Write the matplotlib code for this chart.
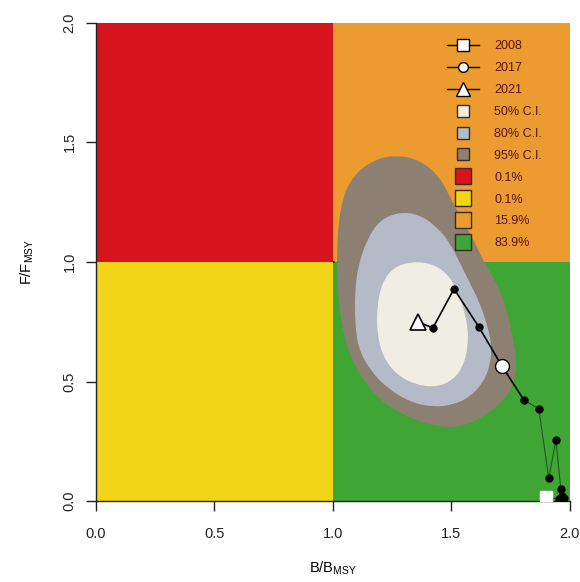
import matplotlib
matplotlib.use("Agg")
import matplotlib.pyplot as plt
from matplotlib.lines import Line2D
from matplotlib.path import Path
from matplotlib.patches import PathPatch

plt.rcParams["font.family"] = ["Liberation Sans", "DejaVu Sans"]

# Kobe quadrants: (b0, b1, f0, f1, colour)
quadrants = [
    (0.0, 1.0, 1.0, 2.0, "#d7141e"),   # overfished & overfishing
    (0.0, 1.0, 0.0, 1.0, "#f2d418"),   # overfished
    (1.0, 2.0, 1.0, 2.0, "#eb9b30"),   # overfishing
    (1.0, 2.0, 0.0, 1.0, "#3fa535"),   # healthy
]
quad_labels = ["0.1%", "0.1%", "15.9%", "83.9%"]

# confidence regions (B/Bmsy, F/Fmsy)
ci95_b = [1.253, 1.367, 1.451, 1.506, 1.565, 1.608, 1.633, 1.692, 1.734, 1.759,
          1.776, 1.768, 1.734, 1.675, 1.608, 1.536, 1.464, 1.380, 1.283, 1.198,
          1.127, 1.072, 1.038, 1.021, 1.017, 1.021, 1.042, 1.084, 1.156]
ci95_f = [1.448, 1.427, 1.356, 1.247, 1.146, 1.063, 1.008, 0.912, 0.799, 0.686,
          0.590, 0.506, 0.435, 0.381, 0.339, 0.310, 0.310, 0.326, 0.368, 0.423,
          0.506, 0.603, 0.728, 0.870, 1.008, 1.146, 1.272, 1.356, 1.418]

ci80_b = [1.283, 1.367, 1.439, 1.494, 1.536, 1.578, 1.620, 1.654, 1.671, 1.662,
          1.633, 1.578, 1.506, 1.422, 1.325, 1.228, 1.156, 1.105, 1.093, 1.093,
          1.105, 1.143, 1.198]
ci80_f = [1.209, 1.197, 1.146, 1.079, 0.996, 0.912, 0.828, 0.728, 0.644, 0.561,
          0.494, 0.435, 0.402, 0.393, 0.414, 0.473, 0.548, 0.644, 0.757, 0.870,
          0.979, 1.092, 1.176]

ci50_b = [1.325, 1.409, 1.481, 1.523, 1.549, 1.570, 1.570, 1.549, 1.506, 1.439,
          1.354, 1.270, 1.211, 1.186, 1.186, 1.207, 1.253]
ci50_f = [1.000, 0.996, 0.954, 0.883, 0.812, 0.728, 0.644, 0.561, 0.506, 0.477,
          0.485, 0.527, 0.603, 0.703, 0.812, 0.912, 0.975]

# stock trajectory 2008-2021
years = list(range(2008, 2022))
b_ratio = [1.899, 1.955, 1.975, 1.965, 1.962, 1.941, 1.911, 1.869, 1.806, 1.713,
           1.616, 1.511, 1.422, 1.359]
f_ratio = [0.017, 0.008, 0.012, 0.020, 0.050, 0.255, 0.096, 0.385, 0.423, 0.565,
           0.728, 0.887, 0.724, 0.749]

ci_colors = {"95% C.I.": "#8c8072", "80% C.I.": "#b4bac8", "50% C.I.": "#f0eee2"}


def smooth_region(xs, ys, color, z):
    # closed quadratic bezier: outline vertices act as control points
    pts = list(zip(xs, ys))
    n = len(pts)
    mids = [((pts[i][0] + pts[(i + 1) % n][0]) / 2,
             (pts[i][1] + pts[(i + 1) % n][1]) / 2) for i in range(n)]
    verts = [mids[-1]]
    codes = [Path.MOVETO]
    for i in range(n):
        verts += [pts[i], mids[i]]
        codes += [Path.CURVE3, Path.CURVE3]
    verts.append(mids[-1])
    codes.append(Path.CLOSEPOLY)
    ax.add_patch(PathPatch(Path(verts, codes), facecolor=color,
                           edgecolor="none", zorder=z))


fig = plt.figure(figsize=(5.8, 5.82), dpi=100)
ax = fig.add_axes([0.1655, 0.139, 0.817, 0.822])

for b0, b1, f0, f1, col in quadrants:
    ax.fill_between([b0, b1], f0, f1, color=col, linewidth=0, zorder=1)

ax.plot([1.0, 1.633], [1.0, 1.0], color="black", linestyle=(0, (1, 1.5)),
        linewidth=1.2, zorder=2)

smooth_region(ci95_b, ci95_f, ci_colors["95% C.I."], 3)
smooth_region(ci80_b, ci80_f, ci_colors["80% C.I."], 4)
smooth_region(ci50_b, ci50_f, ci_colors["50% C.I."], 5)

# early years drawn faint, recent ones in solid black (as in the scan)
ax.plot(b_ratio[:9], f_ratio[:9], color="#1e5a18", linewidth=0.8, zorder=6)
ax.plot(b_ratio[8:], f_ratio[8:], color="black", linewidth=1.2, zorder=6)
ax.plot(b_ratio[1:-1], f_ratio[1:-1], "o", color="black", markersize=5, zorder=7)
ax.plot(b_ratio[0], f_ratio[0], "s", mfc="white", mec="white", markersize=8, zorder=8)
i17 = years.index(2017)
ax.plot(b_ratio[i17], f_ratio[i17], "o", mfc="white", mec="black", mew=1.0,
        markersize=10, zorder=8)
ax.plot(b_ratio[-1], f_ratio[-1], "^", mfc="white", mec="black", mew=1.2,
        markersize=12, zorder=8)

ax.set_xlim(0, 2)
ax.set_ylim(0, 2)
ax.set_xticks([0.0, 0.5, 1.0, 1.5, 2.0])
ax.set_yticks([0.0, 0.5, 1.0, 1.5, 2.0])
ax.xaxis.set_major_formatter(matplotlib.ticker.FormatStrFormatter("%.1f"))
ax.yaxis.set_major_formatter(matplotlib.ticker.FormatStrFormatter("%.1f"))
ax.tick_params(length=7, width=1, labelsize=10.5, colors="#222222", pad=12)
ax.tick_params(axis="y", pad=7)
for lab in ax.get_yticklabels():
    lab.set_rotation(90)
    lab.set_va("center")
for side in ["top", "right"]:
    ax.spines[side].set_visible(False)
for side in ["left", "bottom"]:
    ax.spines[side].set_linewidth(1.0)
    ax.spines[side].set_color("#222222")

ax.set_xlabel(r"B/B$_\mathregular{MSY}$", fontsize=10.5, labelpad=13)
ax.set_ylabel(r"F/F$_\mathregular{MSY}$", fontsize=10.5, labelpad=19)

handles = [
    Line2D([], [], color="black", lw=1, marker="s", mfc="white", mec="black", ms=8),
    Line2D([], [], color="black", lw=1, marker="o", mfc="white", mec="black", ms=7),
    Line2D([], [], color="black", lw=1, marker="^", mfc="white", mec="black", ms=10),
]
labels = ["2008", "2017", "2021"]
for name in ["50% C.I.", "80% C.I.", "95% C.I."]:
    handles.append(Line2D([], [], lw=0, marker="s", mfc=ci_colors[name],
                          mec="#3a2a20", ms=8))
    labels.append(name)
for (_, _, _, _, col), lab in zip(quadrants, quad_labels):
    handles.append(Line2D([], [], lw=0, marker="s", mfc=col, mec="#3a2a20", ms=12))
    labels.append(lab)

leg = ax.legend(handles, labels, loc="upper left", bbox_to_anchor=(0.727, 0.976),
                frameon=False, fontsize=9, handlelength=2.6, handletextpad=1.2,
                labelspacing=0.79, borderpad=0)
for t in leg.get_texts():
    t.set_color("#5a140c")

fig.savefig("out.png", dpi=100)
